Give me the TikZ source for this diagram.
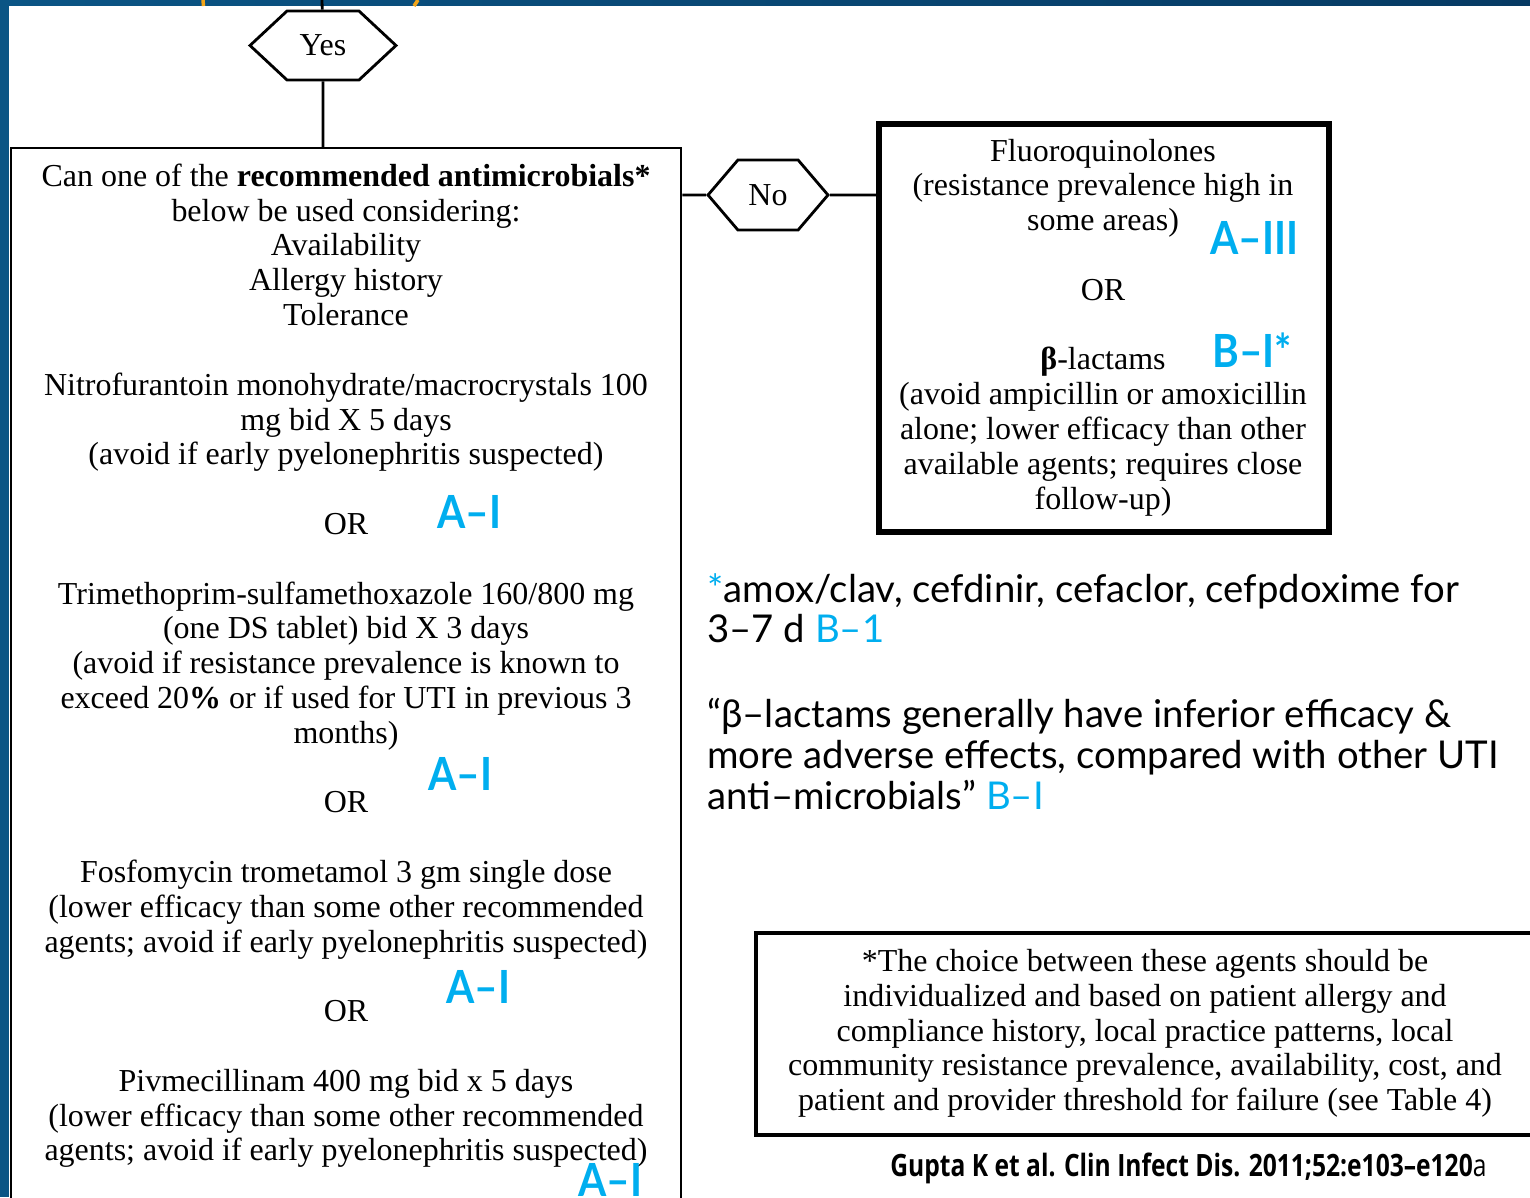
\documentclass[tikz,border=0pt]{standalone}
\usepackage{fontspec}
\usepackage{graphicx}
\setmainfont{Liberation Serif}
\newfontfamily\slidefont{Lato}
\newfontfamily\citefont{Open Sans}
\usetikzlibrary{shapes.symbols,positioning}

\definecolor{slideblue}{HTML}{0B5585}
\definecolor{slidenavy}{HTML}{063A63}
\definecolor{gradecyan}{HTML}{00AEEF}
\definecolor{titleorange}{HTML}{F2A51A}

\tikzset{
  hexnode/.style={shape=signal, signal from=nowhere, signal to=east and west, draw,
    line width=1.6pt, fill=white, inner sep=0pt,
    font=\fontsize{18.2}{20}\selectfont},
  flowtext/.style={align=center, inner sep=0pt, anchor=north,
    font=\fontsize{18.2}{19.81}\selectfont},
  grade/.style={text=gradecyan, inner sep=0pt, anchor=base west,
    font=\slidefont\bfseries\fontsize{26}{30}\selectfont},
  slidetext/.style={inner sep=0pt, anchor=base west,
    font=\slidefont\fontsize{21.8}{24}\selectfont},
  link/.style={line width=1.6pt}
}
\newcommand{\gradelabel}[1]{\scalebox{0.89}[1]{#1}}

\begin{document}
\begin{tikzpicture}[x=0.02cm, y=-0.02cm]
      % Slide frame
      \useasboundingbox (0,0) rectangle (1530,1197);
      \clip (0,0) rectangle (1530,1197);
      \fill[white] (0,0) rectangle (1530,1197);
      \shade[left color=slideblue, right color=slidenavy] (0,0) rectangle (1530,5);
      \fill[slideblue] (0,0) rectangle (9,1197);
      \draw[titleorange, line width=2pt] (203,0) -- (203.5,6);
      \draw[titleorange, line width=2pt] (418,0) -- (414,6);

      % Decision boxes
      \node[hexnode, minimum width=2.92cm, minimum height=1.38cm,
        signal pointer angle=86] (yes) at (323,45.5) {Yes};
      \node[draw, line width=1.1pt, minimum width=13.42cm, minimum height=21.64cm] (choice) at (346,689) {};
      \node[hexnode, minimum width=2.4cm, minimum height=1.4cm,
        signal pointer angle=99] (no) at (768,195) {No};
      \node[draw, line width=3.4pt, minimum width=9cm, minimum height=8.16cm] (alt) at (1104,328) {};
      \node[draw, line width=2.3pt, minimum width=15.8cm, minimum height=4.04cm] (footnote) at (1151,1034) {};

      % Connectors
      \coordinate (entry) at (322,0);
      \draw[link] (entry) -- (yes);
      \draw[link] (yes) -- (yes |- choice.north);
      \draw[link] (no) -- (no -| choice.east);
      \draw[link] (no) -- (no -| alt.west);

      % Texts in the boxes
      \node[flowtext] (choicetext) at (346,163.5) {Can one of the \textbf{recommended antimicrobials*}\\
        below be used considering:\\ Availability\\ Allergy history\\ Tolerance\\[19.81pt]
        Nitrofurantoin monohydrate/macrocrystals 100\\ mg bid X 5 days\\
        (avoid if early pyelonephritis suspected)\\[19.81pt]
        OR\\[19.81pt]
        Trimethoprim-sulfamethoxazole 160/800 mg\\ (one DS tablet) bid X 3 days\\
        (avoid if resistance prevalence is known to\\
        exceed 20\textbf{\%} or if used for UTI in previous 3\\ months)\\[19.81pt]
        OR\\[19.81pt]
        Fosfomycin trometamol 3 gm single dose\\
        (lower efficacy than some other recommended\\
        agents; avoid if early pyelonephritis suspected)\\[19.81pt]
        OR\\[19.81pt]
        Pivmecillinam 400 mg bid x 5 days\\
        (lower efficacy than some other recommended\\
        agents; avoid if early pyelonephritis suspected)};
      \node[flowtext] (alttext) at (1103,138.5) {Fluoroquinolones\\
        (resistance prevalence high in\\ some areas)\\[19.81pt]
        OR\\[19.81pt]
        \textbf{β}-lactams\\
        (avoid ampicillin or amoxicillin\\
        alone; lower efficacy than other\\
        available agents; requires close\\ follow-up)};
      \node[flowtext] (footnotetext) at (1145,949) {*The choice between these agents should be\\
        individualized and based on patient allergy and\\
        compliance history, local practice patterns, local\\
        community resistance prevalence, availability, cost, and\\
        patient and provider threshold for failure (see Table 4)};

      % Grades of recommendation
      \node[grade] (gradefq) at (1210,254) {\gradelabel{A–III}};
      \node[grade] (gradebl) at (1212,367) {\gradelabel{B–I*}};
      \node[grade] (gradenitro) at (437,528) {\gradelabel{A–I}};
      \node[grade] (gradetmp) at (428,790) {\gradelabel{A–I}};
      \node[grade] (gradefos) at (446,1003) {\gradelabel{A–I}};
      \node[grade] (gradepiv) at (578,1196) {\gradelabel{A–I}};

      % Slide notes
      \node[slidetext] (note1) at (707,602) {{\color{gradecyan}*}amox/clav, cefdinir, cefaclor, cefpdoxime for};
      \node[slidetext] (note2) at (707,642) {3–7 d {\color{gradecyan}B–1}};
      \node[slidetext] (quote1) at (707,727) {“β–lactams generally have inferior efficacy \&};
      \node[slidetext] (quote2) at (707,768) {more adverse effects, compared with other UTI};
      \node[slidetext] (quote3) at (707,809) {anti–microbials” {\color{gradecyan}B–I}};
      \node[inner sep=0pt, anchor=base west, font=\citefont\fontsize{17.5}{20}\selectfont] (cite) at (890,1176)
        {\scalebox{0.8}[1]{\bfseries Gupta K et al. Clin Infect Dis. 2011;52:e103–e120\mdseries a}};
    \end{tikzpicture}
\end{document}
